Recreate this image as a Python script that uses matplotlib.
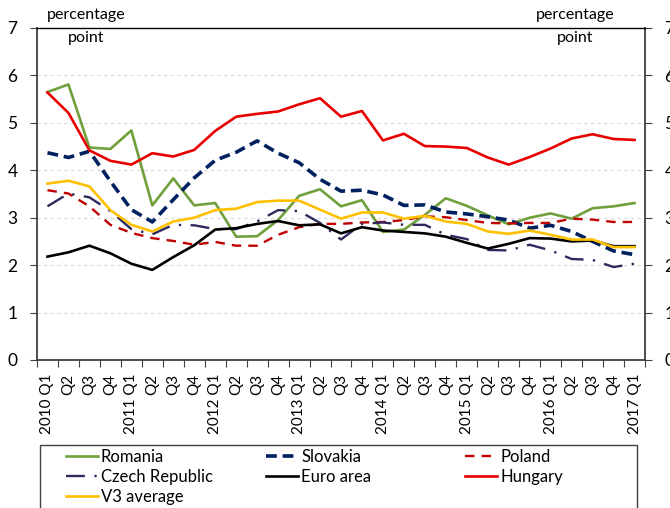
import numpy as np
import matplotlib.pyplot as plt
from matplotlib.patches import Rectangle

plt.rcParams['font.family'] = ['Lato', 'DejaVu Sans']

years = list(range(2010, 2018))
quarters = ['Q1', 'Q2', 'Q3', 'Q4']

romania = [5.65, 5.81, 4.48, 4.45, 4.84, 3.26, 3.83, 3.26, 3.31, 2.60, 2.61, 2.95, 3.46, 3.60, 3.24,
           3.37, 2.70, 2.75, 3.06, 3.41, 3.25, 3.05, 2.86, 3.00, 3.09, 2.98, 3.20, 3.24, 3.31]
slovakia = [4.37, 4.27, 4.40, 3.77, 3.17, 2.91, 3.38, 3.84, 4.21, 4.38, 4.62, 4.36, 4.16, 3.81, 3.56,
            3.58, 3.48, 3.26, 3.27, 3.12, 3.08, 3.02, 2.95, 2.78, 2.84, 2.71, 2.50, 2.30, 2.22]
poland = [3.58, 3.51, 3.24, 2.85, 2.68, 2.57, 2.51, 2.43, 2.49, 2.41, 2.41, 2.64, 2.80, 2.87, 2.87,
          2.90, 2.91, 2.95, 3.03, 3.01, 2.95, 2.89, 2.88, 2.89, 2.89, 2.98, 2.96, 2.91, 2.91]
czech = [3.24, 3.51, 3.43, 3.14, 2.76, 2.65, 2.85, 2.84, 2.76, 2.76, 2.92, 3.16, 3.14, 2.89, 2.54,
         2.87, 2.90, 2.85, 2.85, 2.64, 2.55, 2.32, 2.31, 2.43, 2.31, 2.13, 2.11, 1.96, 2.03]
euro_area = [2.18, 2.27, 2.41, 2.25, 2.03, 1.90, 2.17, 2.42, 2.75, 2.78, 2.87, 2.93, 2.84, 2.86, 2.67,
             2.80, 2.73, 2.70, 2.67, 2.60, 2.47, 2.35, 2.45, 2.57, 2.56, 2.50, 2.52, 2.40, 2.40]
hungary = [5.64, 5.21, 4.42, 4.20, 4.12, 4.36, 4.29, 4.43, 4.83, 5.13, 5.19, 5.24, 5.39, 5.52, 5.13,
           5.25, 4.63, 4.77, 4.51, 4.50, 4.47, 4.27, 4.12, 4.28, 4.46, 4.67, 4.76, 4.66, 4.64]
v3_average = [3.72, 3.78, 3.66, 3.16, 2.85, 2.71, 2.92, 3.00, 3.16, 3.19, 3.33, 3.36, 3.36, 3.17, 2.98,
              3.11, 3.11, 2.98, 3.04, 2.92, 2.87, 2.71, 2.66, 2.73, 2.64, 2.54, 2.54, 2.38, 2.38]

labels = []
for y in years:
    for q in quarters:
        labels.append(q if q != 'Q1' else '{} Q1'.format(y))
labels = labels[:len(romania)]
x = np.arange(len(labels))

fig = plt.figure(figsize=(6.7, 5.08), dpi=100)
ax = fig.add_axes([37/670, 1-360/508, 608/670, 332/508])

for v in range(1, 7):
    ax.axhline(v, color='#d9d9d9', lw=0.8, ls=(0, (3, 3)), zorder=0)

l_ro, = ax.plot(x, romania, color='#70a03c', lw=1.9, label='Romania')
l_sk, = ax.plot(x, slovakia, color='#002060', lw=2.6, dashes=(3, 1.6), label='Slovakia')
l_pl, = ax.plot(x, poland, color='#c00000', lw=1.7, dashes=(4, 3), label='Poland')
l_cz, = ax.plot(x, czech, color='#2e2a5e', lw=1.7, dashes=(8, 4, 1, 4), label='Czech Republic')
l_ea, = ax.plot(x, euro_area, color='black', lw=1.9, label='Euro area')
l_hu, = ax.plot(x, hungary, color='#e80000', lw=1.9, label='Hungary')
l_v3, = ax.plot(x, v3_average, color='#ffc000', lw=1.9, label='V3 average')

ax.set_xlim(-0.5, len(x) - 0.5)
ax.set_ylim(0, 7)
ax.set_yticks(range(0, 8))
ax.set_xticks(np.arange(-0.5, len(x)), minor=False)
ax.set_xticklabels([])
ax.set_xticks(x, minor=True)
ax.set_xticklabels(labels, minor=True, rotation=90, fontsize=11)
ax.tick_params(axis='x', which='major', direction='out', length=5, color='#404040')
ax.tick_params(axis='x', which='minor', length=0, pad=10)
ax.tick_params(axis='y', direction='out', length=5, color='#404040', labelsize=12.5,
               right=True, labelright=True, pad=9)

for s in ['left', 'right', 'bottom']:
    ax.spines[s].set_color('#404040')
    ax.spines[s].set_linewidth(1.3)
ax.spines['top'].set_color('black')
ax.spines['top'].set_linewidth(1.0)

fig.text(86/670, 1-15/508, 'percentage', ha='center', va='center', fontsize=11.5)
fig.text(86/670, 1-38/508, 'point', ha='center', va='center', fontsize=11.5)
fig.text(575/670, 1-15/508, 'percentage', ha='center', va='center', fontsize=11.5)
fig.text(575/670, 1-38/508, 'point', ha='center', va='center', fontsize=11.5)

# legend: three columns placed by hand inside one frame
fig.patches.append(Rectangle((40/670, -0.05), 597/670, 1-445/508+0.05, transform=fig.transFigure,
                             facecolor='white', edgecolor='#404040', lw=1.0, zorder=1))
columns = [([l_ro, l_cz, l_v3], 66), ([l_sk, l_ea], 266), ([l_pl, l_hu], 465)]
for hs, xpos in columns:
    fig.legend(handles=hs, labels=[h.get_label() for h in hs], loc='upper left',
               bbox_to_anchor=(xpos/670, 1-449/508), frameon=False, fontsize=12,
               handlelength=1.9, handletextpad=0.2, borderpad=0, borderaxespad=0,
               labelspacing=0.23)

fig.savefig('out.png', dpi=100)
